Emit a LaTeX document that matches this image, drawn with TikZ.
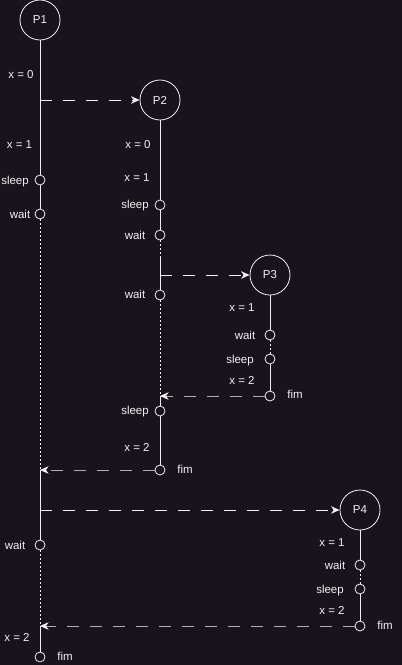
\documentclass[tikz,border=0pt]{standalone}
\usepackage{fontspec}
\setmainfont{Liberation Sans}
\usetikzlibrary{arrows.meta}
\definecolor{bg}{HTML}{18141D}
\definecolor{fg}{HTML}{F0F0F0}
\definecolor{ret}{HTML}{B0B0B0}
\begin{document}
\begin{tikzpicture}[x=1pt,y=-1pt,
  proc/.style={circle,draw=fg,line width=0.8pt,minimum size=40pt,inner sep=0pt,text=fg,font=\fontsize{11.5}{13}\selectfont},
  ev/.style={circle,draw=fg,line width=0.8pt,minimum size=10pt,inner sep=0pt},
  lbl/.style={text=fg,font=\fontsize{11.5}{13}\selectfont,inner sep=0pt,text height=8pt,text depth=0pt},
  life/.style={draw=fg,line width=0.8pt},
  dotl/.style={draw=fg,line width=0.8pt,dash pattern=on 2pt off 2pt},
  fwd/.style={draw=fg,line width=0.9pt,dash pattern=on 12pt off 11pt,-{Stealth[length=8.5pt,width=7.5pt,inset=2.5pt]}},
  back/.style={draw=ret,line width=0.9pt,dash pattern=on 12pt off 11pt,-{Stealth[length=8.5pt,width=7.5pt,inset=2.5pt,color=fg]}}]
\fill[bg] (0,0) rectangle (402,665);
\useasboundingbox (0,0) rectangle (402,665);

% processes
\node[proc] (p1) at (40,20) {P1};
\node[proc] (p2) at (160,100) {P2};
\node[proc] (p3) at (270,275) {P3};
\node[proc] (p4) at (360,510) {P4};

% P1 events
\node[ev] (p1s) at (40,180) {};
\node[ev] (p1w1) at (40,214) {};
\node[ev] (p1w2) at (40,545) {};
\node[ev] (p1f) at (40,657) {};
\coordinate (p1a) at (40,100);
\coordinate (p1r1) at (40,470);
\coordinate (p1b) at (40,510);
\coordinate (p1r2) at (40,626);

% P2 events
\node[ev] (p2s1) at (160,205) {};
\node[ev] (p2w1) at (160,235) {};
\coordinate (p2c) at (160,256);
\coordinate (p2a) at (160,275);
\node[ev] (p2w2) at (160,295) {};
\coordinate (p2r) at (160,396);
\node[ev] (p2s2) at (160,411) {};
\node[ev] (p2f) at (160,470) {};

% P3 events
\node[ev] (p3w) at (270,335) {};
\node[ev] (p3s) at (270,359) {};
\node[ev] (p3f) at (270,396) {};

% P4 events
\node[ev] (p4w) at (360,565) {};
\node[ev] (p4s) at (360,589) {};
\node[ev] (p4f) at (360,626) {};

% life lines P1
\draw[life] (p1) -- (p1s);
\draw[life] (p1s) -- (p1w1);
\draw[dotl] (p1w1) -- (p1r1);
\draw[life] (p1r1) -- (p1w2);
\draw[dotl] (p1w2) -- (p1r2);
\draw[life] (p1r2) -- (p1f);

% life lines P2
\draw[life] (p2) -- (p2s1);
\draw[life] (p2s1) -- (p2w1);
\draw[dotl] (p2w1) -- (p2c);
\draw[life] (p2c) -- (p2w2);
\draw[dotl] (p2w2) -- (p2r);
\draw[life] (p2r) -- (p2s2);
\draw[life] (p2s2) -- (p2f);

% life lines P3
\draw[life] (p3) -- (p3w);
\draw[dotl] (p3w) -- (p3s);
\draw[life] (p3s) -- (p3f);

% life lines P4
\draw[life] (p4) -- (p4w);
\draw[dotl] (p4w) -- (p4s);
\draw[life] (p4s) -- (p4f);

% messages
\draw[fwd] (p1a) -- (p2);
\draw[fwd] (p2a) -- (p3);
\draw[fwd] (p1b) -- (p4);
\draw[back] (p3f) -- (p2r);
\draw[back] (p2f) -- (p1r1);
\draw[back] (p4f) -- (p1r2);

% labels P1
\node[lbl] (t1) at (21,74) {x = 0};
\node[lbl] (t2) at (19.5,144) {x = 1};
\node[lbl] (t3) at (15,180) {sleep};
\node[lbl] (t4) at (20,214) {wait};
\node[lbl] (t5) at (15,545) {wait};
\node[lbl] (t6) at (17,637) {x = 2};
\node[lbl] (t7) at (65,656) {fim};

% labels P2
\node[lbl] (u1) at (138,144) {x = 0};
\node[lbl] (u2) at (137,177) {x = 1};
\node[lbl] (u3) at (135,204) {sleep};
\node[lbl] (u4) at (135,235) {wait};
\node[lbl] (u5) at (135,294) {wait};
\node[lbl] (u6) at (135,410) {sleep};
\node[lbl] (u7) at (137,447) {x = 2};
\node[lbl] (u8) at (185,469) {fim};

% labels P3
\node[lbl] (v1) at (242,307) {x = 1};
\node[lbl] (v2) at (245,335) {wait};
\node[lbl] (v3) at (240,359) {sleep};
\node[lbl] (v4) at (242,380) {x = 2};
\node[lbl] (v5) at (295,394) {fim};

% labels P4
\node[lbl] (w1) at (332,542) {x = 1};
\node[lbl] (w2) at (335,565) {wait};
\node[lbl] (w3) at (330,589) {sleep};
\node[lbl] (w4) at (332,610) {x = 2};
\node[lbl] (w5) at (385,625) {fim};
\end{tikzpicture}
\end{document}
